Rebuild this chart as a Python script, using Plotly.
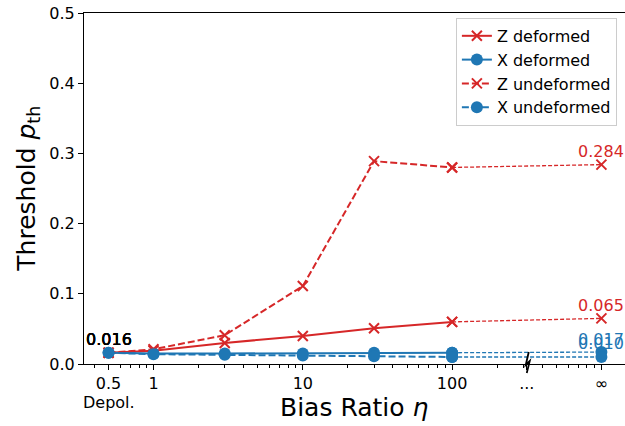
import numpy as np
import plotly.graph_objects as go

# ---- data ----
eta = [0.5, 1, 3, 10, 30, 100]          # finite bias ratios
eta_inf = 1000                           # axis position used for eta = infinity
tick_vals = [0.5, 1, 10, 100, 316.2, 1000]
tick_text = ["0.5", "1", "10", "100", "...", "∞"]

z_def = [0.016, 0.019, 0.030, 0.040, 0.051, 0.060]
z_def_inf = 0.065
x_def = [0.016, 0.015, 0.015, 0.015, 0.016, 0.016]
x_def_inf = 0.017
z_undef = [0.016, 0.021, 0.041, 0.111, 0.289, 0.280]
z_undef_inf = 0.284
x_undef = [0.016, 0.014, 0.013, 0.012, 0.011, 0.010]
x_undef_inf = 0.010

RED = "#d62728"
BLUE = "#1f77b4"
FONT = "DejaVu Sans"

series = [
    ("Z deformed", z_def, z_def_inf, RED, "x", "solid"),
    ("X deformed", x_def, x_def_inf, BLUE, "o", "solid"),
    ("Z undeformed", z_undef, z_undef_inf, RED, "x", "7px,3px"),
    ("X undeformed", x_undef, x_undef_inf, BLUE, "o", "7px,3px"),
]

def marker_for(kind, color):
    if kind == "x":
        return dict(symbol="x-thin", size=10, color=color, line=dict(width=2, color=color))
    return dict(symbol="circle", size=12, color=color, line=dict(width=0))

fig = go.Figure()
# thin dashed extensions from 100 to infinity
for name, vals, vinf, color, kind, dash in series:
    fig.add_trace(go.Scatter(
        x=[eta[-1], eta_inf], y=[vals[-1], vinf], mode="lines+markers",
        line=dict(color=color, width=1.3, dash="4px,2px"),
        marker=marker_for(kind, color),
        showlegend=False, hoverinfo="skip"))
# main curves
for name, vals, vinf, color, kind, dash in series:
    fig.add_trace(go.Scatter(
        x=eta, y=vals, mode="lines+markers", name=name,
        line=dict(color=color, width=2, dash=dash),
        marker=marker_for(kind, color)))

xr = [-0.4655, 3.158]
annotations = []
for name, vals, vinf, color, kind, dash in series:
    annotations.append(dict(x=np.log10(eta[0]), y=vals[0], xref="x", yref="y",
                            text=f"{vals[0]:.3f}", showarrow=False, yshift=13,
                            font=dict(family=FONT, size=16, color="black")))
    annotations.append(dict(x=np.log10(eta_inf), y=vinf, xref="x", yref="y",
                            text=f"{vinf:.3f}", showarrow=False, yshift=13,
                            font=dict(family=FONT, size=16, color=color)))
annotations.append(dict(x=np.log10(eta[0]), y=0, xref="x", yref="paper",
                        text="Depol.", showarrow=False, yanchor="middle", yshift=-38,
                        font=dict(family=FONT, size=16, color="black")))
annotations.append(dict(x=0.5, y=-0.125, xref="paper", yref="paper",
                        text="Bias Ratio <i>η</i>", showarrow=False,
                        xanchor="center", yanchor="middle",
                        font=dict(family=FONT, size=25, color="black")))
annotations.append(dict(x=-0.105, y=0.5, xref="paper", yref="paper",
                        text="Threshold <i>p</i><sub>th</sub>", showarrow=False,
                        textangle=-90, xanchor="center", yanchor="middle",
                        font=dict(family=FONT, size=25, color="black")))

# axis-break squiggle at the "..." position
bx = (np.log10(316.2) - xr[0]) / (xr[1] - xr[0])
px = 1 / 541.0
py = 1 / 351.0
path = (f"M {bx+2*px} {12*py} L {bx-1*px} {-1*py} L {bx+3*px} {3*py} "
        f"L {bx} {-9*py}")

minor_vals = [0.4, 0.6, 0.7, 0.8, 0.9] + list(range(2, 10)) + list(range(20, 100, 10)) + list(range(200, 1000, 100))

fig.update_layout(
    width=625, height=426,
    margin=dict(l=84, r=0, t=13, b=62),
    plot_bgcolor="white", paper_bgcolor="white",
    font=dict(family=FONT, size=16, color="black"),
    xaxis=dict(type="log", range=xr, tickmode="array", tickvals=tick_vals, ticktext=tick_text,
               ticks="outside", ticklen=5, tickwidth=1, tickcolor="black",
               showline=True, linecolor="black", linewidth=1.2, mirror=True,
               showgrid=False, zeroline=False,
               tickfont=dict(family=FONT, size=16),
               minor=dict(tickvals=minor_vals, ticks="outside", ticklen=3, tickcolor="black",
                          tickwidth=0.8, showgrid=False)),
    yaxis=dict(range=[0, 0.5], tickmode="array", tickvals=[0, 0.1, 0.2, 0.3, 0.4, 0.5],
               ticktext=["0.0", "0.1", "0.2", "0.3", "0.4", "0.5"],
               ticks="outside", ticklen=5, tickwidth=1, tickcolor="black",
               showline=True, linecolor="black", linewidth=1.2,
               showgrid=False, zeroline=False, tickfont=dict(family=FONT, size=16)),
    legend=dict(x=0.985, y=0.986, xanchor="right", yanchor="top",
                bgcolor="rgba(255,255,255,0.8)", bordercolor="#cccccc", borderwidth=1,
                font=dict(family=FONT, size=16), itemwidth=30, tracegroupgap=0),
    annotations=annotations,
    shapes=[dict(type="path", xref="paper", yref="paper", path=path,
                 line=dict(color="black", width=1.8))],
    showlegend=True,
)

fig.write_html("out.html")
